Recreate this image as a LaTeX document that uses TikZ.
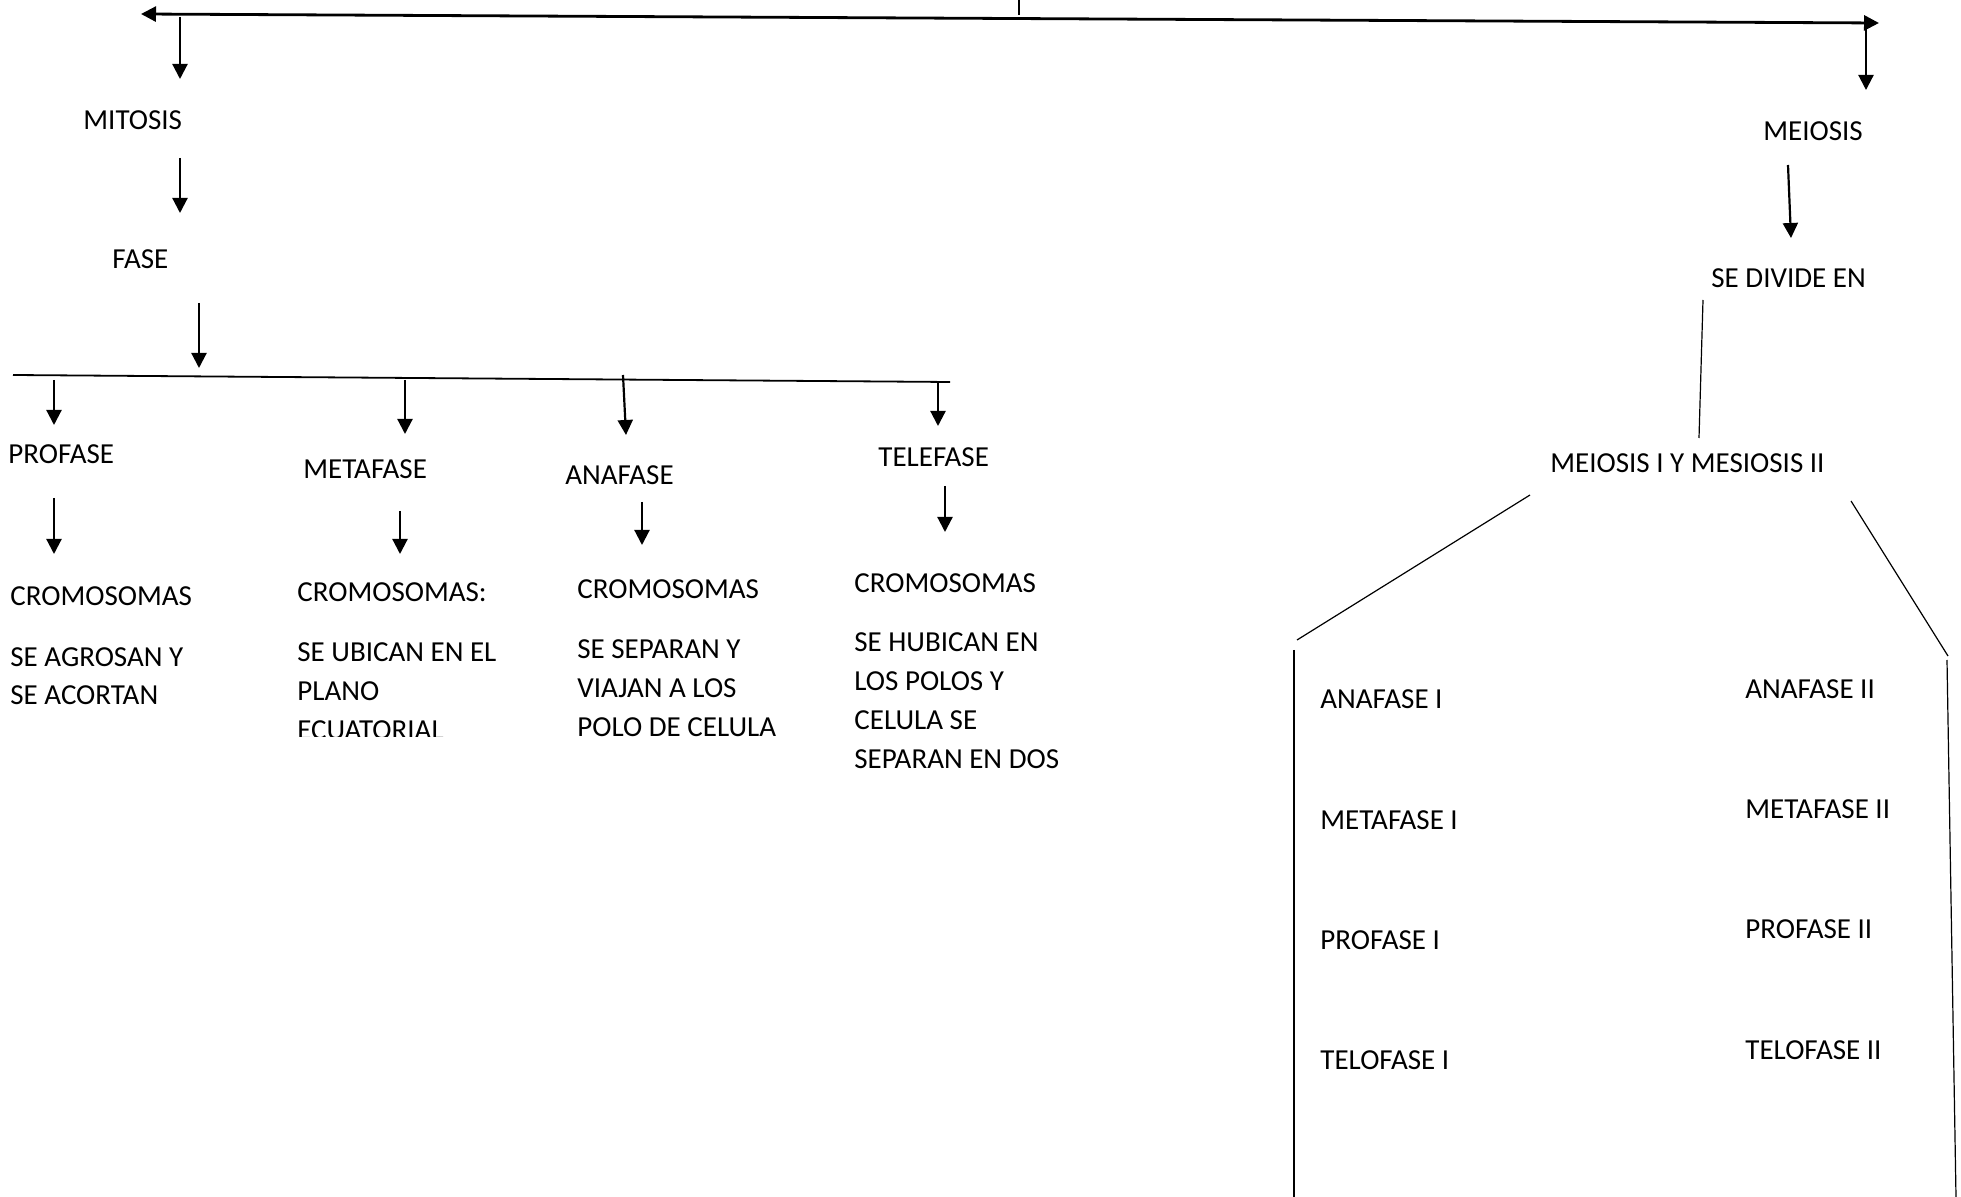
\documentclass[tikz,border=0pt]{standalone}
\usepackage{fontspec}
\setmainfont{Carlito}
\usepackage{tikz}
\usetikzlibrary{arrows.meta}
\tikzset{>={Triangle[width=7.5pt,length=7.5pt]}}

\begin{document}
\begin{tikzpicture}[x=0.5pt, y=-0.5pt, word/.style={anchor=base west, inner sep=0pt, font=\fontsize{14.5}{19.5}\selectfont}, textblock/.style={word, align=left}, arrow/.style={->, line width=1.1pt}, bar/.style={line width=0.9pt}, thinline/.style={line width=0.6pt}]
    \useasboundingbox (0,0) rectangle (1961,1197);
    
    %Nodes
    \node[word](mitosis) at (83,130){MITOSIS};
    \node[word](fase) at (112,269){FASE};
    \node[word](profase) at (8,464){PROFASE};
    \node[word](metafase) at (303,479){METAFASE};
    \node[word](anafase) at (565,485){ANAFASE};
    \node[word](telefase) at (878,467){TELEFASE};
    \node[word](crom1) at (10,606){CROMOSOMAS};
    \node[word](crom2) at (297,602){CROMOSOMAS:};
    \node[word](crom3) at (577,599){CROMOSOMAS};
    \node[word](crom4) at (854,593){CROMOSOMAS};
    \node[textblock](desc1) at (10,705){SE AGROSAN Y\\SE ACORTAN};
    \begin{scope}
        \clip (280,620) rectangle (540,737);
        \node[textblock](desc2) at (297,740){SE UBICAN EN EL\\PLANO\\ECUATORIAL};
    \end{scope}
    \node[textblock](desc3) at (577,737){SE SEPARAN Y\\VIAJAN A LOS\\POLO DE CELULA};
    \node[textblock](desc4) at (854,769){SE HUBICAN EN\\LOS POLOS Y\\CELULA SE\\SEPARAN EN DOS};
    \node[word](meiosis) at (1763,141){MEIOSIS};
    \node[word](divide) at (1711,288){SE DIVIDE EN};
    \node[word](meiosis12) at (1550,473){MEIOSIS I Y MESIOSIS II};
    \node[word](anaI) at (1320,709){ANAFASE I};
    \node[word](metaI) at (1320,829){METAFASE I};
    \node[word](proI) at (1320,949){PROFASE I};
    \node[word](teloI) at (1320,1069){TELOFASE I};
    \node[word](anaII) at (1745,699){ANAFASE II};
    \node[word](metaII) at (1745,819){METAFASE II};
    \node[word](proII) at (1745,938){PROFASE II};
    \node[word](teloII) at (1745,1059){TELOFASE II};
    
    %Line ends
    \coordinate (root) at (1019,0);
    \coordinate (split) at (1019,15);
    \coordinate (leftend) at (141,14);
    \coordinate (rightend) at (1879,23);
    \coordinate (barL) at (13,375);
    \coordinate (barR) at (950,382);
    \coordinate (cutL) at (1297,640);
    \coordinate (cutR) at (1948,656);
    \coordinate (baseL) at (1294,1197);
    \coordinate (baseR) at (1956,1197);
    
    %Lines
    \draw[thinline] (root) -- (split);
    \draw[<->, line width=1.4pt] (leftend) -- (rightend);
    \draw[arrow] (180,17) -- (180,79);
    \draw[arrow] (180,158) -- (180,213);
    \draw[arrow] (199,303) -- (199,368);
    \draw[bar] (barL) -- (barR);
    \draw[arrow] (54,380) -- (54,425);
    \draw[arrow] (405,380) -- (405,434);
    \draw[arrow] (623,375) -- (626,435);
    \draw[arrow] (938,381) -- (938,426);
    \draw[arrow] (54,498) -- (54,554);
    \draw[arrow] (400,511) -- (400,554);
    \draw[arrow] (642,502) -- (642,545);
    \draw[arrow] (945,486) -- (945,532);
    \draw[arrow] (1866,23) -- (1866,90);
    \draw[arrow] (1788,165) -- (1791,238);
    \draw[thinline] (1703,300) -- (1699,438);
    \draw[thinline] (1530,495) -- (cutL);
    \draw[thinline] (1294,650) -- (baseL);
    \draw[thinline] (1851,501) -- (cutR);
    \draw[thinline] (1947,660) -- (baseR);
    
\end{tikzpicture}
\end{document}
